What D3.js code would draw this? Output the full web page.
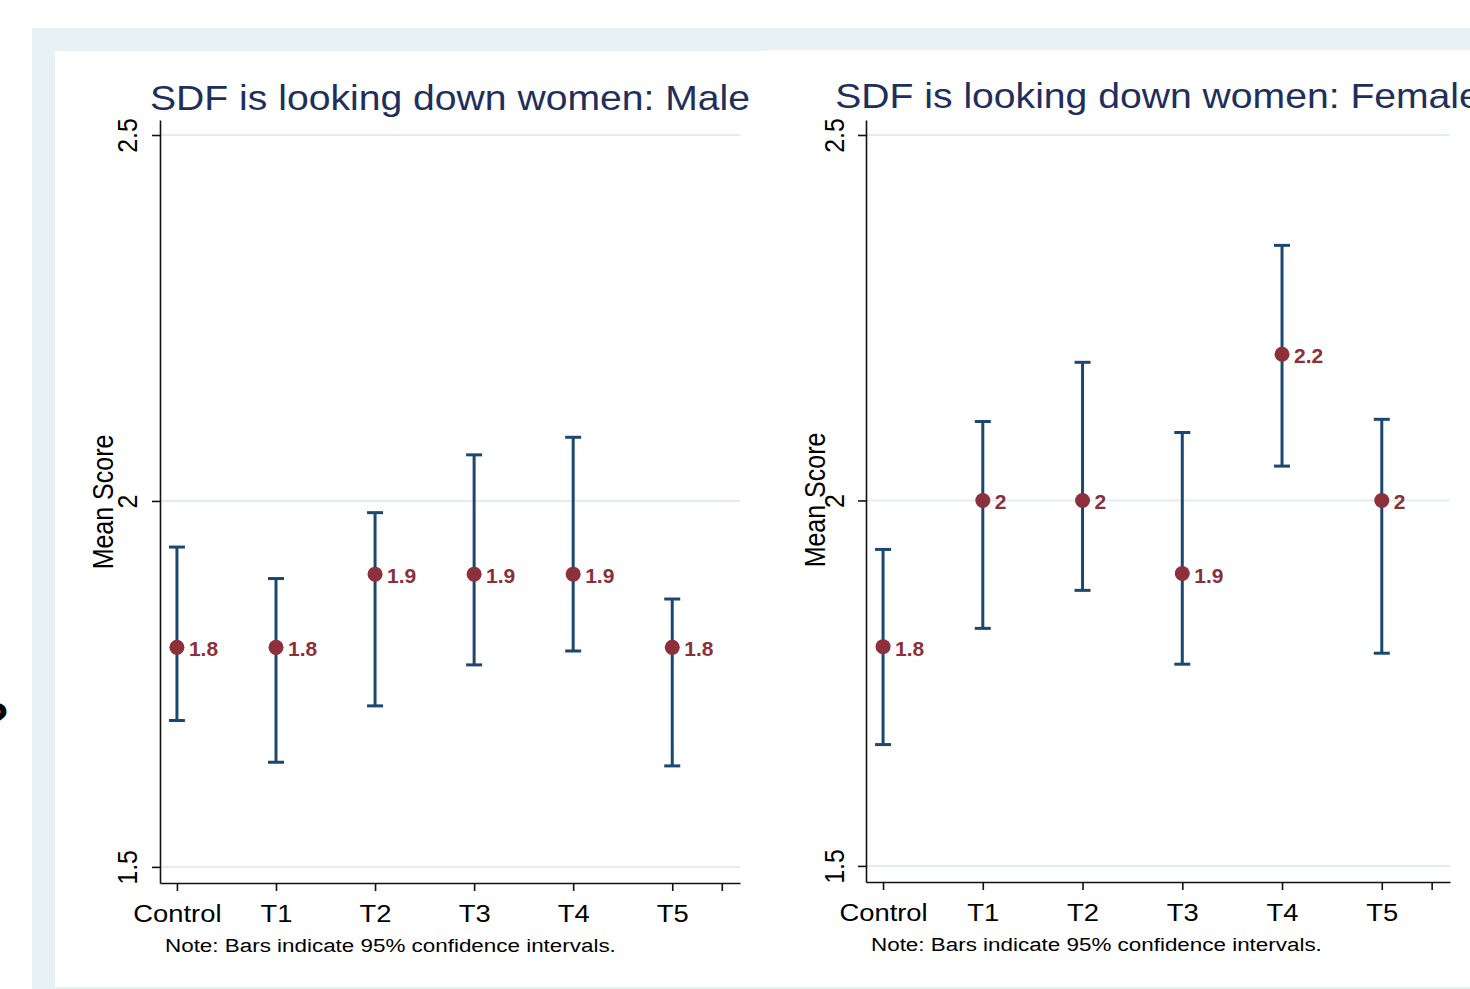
<!DOCTYPE html>
<html>
<head>
<meta charset="utf-8">
<script src="https://cdn.jsdelivr.net/npm/d3@7"></script>
<style>
  html, body { margin: 0; padding: 0; background: #ffffff; overflow: hidden; }
  svg { display: block; }
  text { font-family: "Liberation Sans", Arial, Helvetica, sans-serif; }
</style>
</head>
<body>
<svg id="chart" width="1470" height="989"></svg>
<script>
// ---------------- DATA ----------------
const categories = ["Control", "T1", "T2", "T3", "T4", "T5"];
const xTickValues = [0, 1, 2, 3, 4, 5, 5.5];
const yTicks = [1.5, 2, 2.5];

const maleTitle = "SDF is looking down women: Male";
const maleMean = [1.80, 1.80, 1.90, 1.90, 1.90, 1.80];
const maleLow  = [1.700, 1.643, 1.720, 1.776, 1.795, 1.638];
const maleHigh = [1.937, 1.894, 1.984, 2.063, 2.087, 1.866];

const femaleTitle = "SDF is looking down women: Female";
const femaleMean = [1.80, 2.00, 2.00, 1.90, 2.20, 2.00];
const femaleLow  = [1.666, 1.825, 1.877, 1.776, 2.047, 1.791];
const femaleHigh = [1.933, 2.108, 2.189, 2.093, 2.349, 2.111];

const yTitle = "Mean Score";
const noteText = "Note: Bars indicate 95% confidence intervals.";

// ---------------- STYLE ----------------
const C = {
  frame: "#e7f0f2",
  grid: "#e3edf0",
  title: "#1f2f5c",
  bar: "#1b4771",
  marker: "#8e2f3c",
  label: "#8b2f3b",
  axis: "#111111"
};

const svg = d3.select("#chart");

// background frame
svg.append("rect").attr("x", 32).attr("y", 28).attr("width", 1438).attr("height", 961).attr("fill", C.frame);
svg.append("rect").attr("x", 55).attr("y", 51).attr("width", 712).attr("height", 936).attr("fill", "#ffffff");
svg.append("rect").attr("x", 767).attr("y", 50).attr("width", 703).attr("height", 937).attr("fill", "#ffffff");

// cut-off glyph at far left edge
svg.append("text").attr("x", -18).attr("y", 734)
  .attr("font-size", 44).attr("font-weight", "bold").attr("fill", "#000").text("?");

function panel(cfg) {
  const g = svg.append("g");
  const x = d3.scaleLinear().domain([-0.171, 5.684]).range([cfg.left, cfg.right]);
  const y = d3.scaleLinear().domain([1.478, 2.5205]).range([cfg.bottom, cfg.top]);

  // gridlines
  g.append("g").selectAll("line").data(yTicks).join("line")
    .attr("x1", cfg.left).attr("x2", cfg.right)
    .attr("y1", d => y(d)).attr("y2", d => y(d))
    .attr("stroke", C.grid).attr("stroke-width", 2);

  // title
  g.append("text")
    .attr("transform", `translate(${(cfg.left + cfg.right) / 2},${cfg.titleY}) scale(1.087,1)`)
    .attr("text-anchor", "middle").attr("font-size", 36).attr("fill", C.title)
    .text(cfg.title);

  // y axis
  const ya = g.append("g").attr("transform", `translate(${cfg.left},0)`)
    .call(d3.axisLeft(y).tickValues(yTicks).tickSize(8).tickSizeOuter(0).tickFormat(d3.format("")));
  ya.select(".domain").attr("stroke", C.axis).attr("stroke-width", 1.6);
  ya.selectAll(".tick line").attr("stroke", C.axis).attr("stroke-width", 1.6);
  ya.selectAll(".tick text")
    .attr("x", null).attr("y", null).attr("dy", null)
    .attr("transform", `translate(${cfg.yLabOff},0) scale(1.12,1) rotate(-90)`)
    .attr("text-anchor", "middle").attr("font-size", 25).attr("fill", "#000")
    .attr("font-family", null);

  // y title
  g.append("text")
    .attr("transform", `translate(${cfg.yTitleX},${cfg.yTitleY}) scale(1.17,1) rotate(-90)`)
    .attr("text-anchor", "middle").attr("font-size", 25).attr("fill", "#000")
    .text(yTitle);

  // x axis
  const xa = g.append("g").attr("transform", `translate(0,${cfg.bottom})`)
    .call(d3.axisBottom(x).tickValues(xTickValues).tickSize(8).tickSizeOuter(0)
      .tickFormat(d => Number.isInteger(d) ? categories[d] : ""));
  xa.select(".domain").attr("stroke", C.axis).attr("stroke-width", 1.6);
  xa.selectAll(".tick line").attr("stroke", C.axis).attr("stroke-width", 1.6);
  xa.selectAll(".tick text")
    .attr("x", null).attr("y", null).attr("dy", null)
    .attr("transform", `translate(0,${cfg.catOff}) scale(1.14,1)`)
    .attr("text-anchor", "middle").attr("font-size", 24).attr("fill", "#000")
    .attr("font-family", null);

  // note
  g.append("text")
    .attr("transform", `translate(${cfg.left + 5},${cfg.noteY}) scale(1.18,1)`)
    .attr("font-size", 19).attr("fill", "#000").text(noteText);

  const rows = categories.map((c, i) => ({ i, m: cfg.mean[i], lo: cfg.low[i], hi: cfg.high[i] }));
  const bars = g.append("g");
  bars.selectAll("line.v").data(rows).join("line").attr("class", "v")
    .attr("x1", d => x(d.i)).attr("x2", d => x(d.i))
    .attr("y1", d => y(d.lo)).attr("y2", d => y(d.hi))
    .attr("stroke", C.bar).attr("stroke-width", 3);
  ["lo", "hi"].forEach(k => {
    bars.selectAll("line.c" + k).data(rows).join("line").attr("class", "c" + k)
      .attr("x1", d => x(d.i) - 8).attr("x2", d => x(d.i) + 8)
      .attr("y1", d => y(d[k])).attr("y2", d => y(d[k]))
      .attr("stroke", C.bar).attr("stroke-width", 3);
  });
  bars.selectAll("circle").data(rows).join("circle")
    .attr("cx", d => x(d.i)).attr("cy", d => y(d.m)).attr("r", 7.5)
    .attr("fill", C.marker);
  bars.selectAll("text").data(rows).join("text")
    .attr("x", d => x(d.i) + 12).attr("y", d => y(d.m) + 9)
    .attr("font-size", 21).attr("font-weight", "bold").attr("fill", C.label)
    .text(d => String(+d.m.toFixed(1)));
}

panel({
  title: maleTitle, mean: maleMean, low: maleLow, high: maleHigh,
  left: 160, right: 740, top: 120, bottom: 883,
  titleY: 110, yLabOff: -23, yTitleX: 113, yTitleY: 502, catOff: 39, noteY: 952
});
panel({
  title: femaleTitle, mean: femaleMean, low: femaleLow, high: femaleHigh,
  left: 866, right: 1450, top: 120, bottom: 882,
  titleY: 108, yLabOff: -22, yTitleX: 825, yTitleY: 500, catOff: 39, noteY: 951
});
</script>
</body>
</html>
